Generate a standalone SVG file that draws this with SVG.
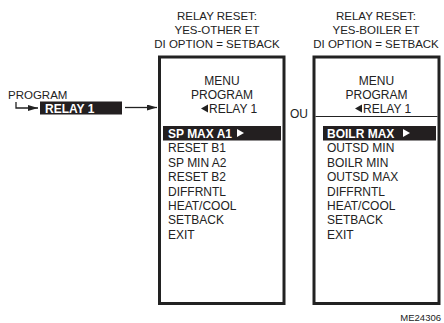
<svg xmlns="http://www.w3.org/2000/svg" width="444" height="323" viewBox="0 0 444 323">
<defs>
<style>
text{font-family:"Liberation Sans",Arial,sans-serif;font-size:12px;fill:#222}
.lb{font-size:11.5px}
.c{text-anchor:middle}
.w{fill:#fff;font-weight:bold}
.box{fill:#fff;stroke:#222;stroke-width:3}
.ln{stroke:#222;stroke-width:1.3;fill:none}
.hl{fill:#231f20}
</style>
<marker id="ah" markerWidth="10" markerHeight="6" refX="10" refY="3" orient="auto" markerUnits="userSpaceOnUse">
<path d="M0,0 L10,3 L0,6 Z" fill="#222"/>
</marker>
</defs>
<rect width="444" height="323" fill="#fff"/>

<g id="connectors">
<path class="ln" d="M16,102 V108 H38" marker-end="url(#ah)"/>
<path class="ln" d="M125,107.5 H157" marker-end="url(#ah)"/>
</g>

<g id="program">
<text class="lb" x="8" y="99">PROGRAM</text>
<rect class="hl" x="40" y="101.5" width="82" height="13"/>
<text class="w" x="45" y="112.5">RELAY 1</text>
</g>

<g id="label-left">
<text class="c lb" x="217" y="20">RELAY RESET:</text>
<text class="c lb" x="217" y="33.5">YES-OTHER ET</text>
<text class="c lb" x="217" y="47.5">DI OPTION = SETBACK</text>
</g>

<g id="menu-left">
<rect class="box" x="159.5" y="57" width="124.5" height="246.5"/>
<text class="c" x="222" y="85">MENU</text>
<text class="c" x="222" y="98.5">PROGRAM</text>
<path d="M201,108.5 L208,104.5 L208,112.5 Z" fill="#222"/>
<text x="209" y="112.5">RELAY 1</text>
<rect class="hl" x="163" y="126" width="118" height="14.5"/>
<text class="w" x="168" y="138">SP MAX A1</text>
<path d="M237,129 L244,133 L237,137 Z" fill="#fff"/>
<text x="168" y="152.3">RESET B1</text>
<text x="168" y="166.7">SP MIN A2</text>
<text x="168" y="181.2">RESET B2</text>
<text x="168" y="195.6">DIFFRNTL</text>
<text x="168" y="210">HEAT/COOL</text>
<text x="168" y="224.2">SETBACK</text>
<text x="168" y="238.5">EXIT</text>
</g>

<g id="ou">
<text class="c" x="299" y="118">OU</text>
</g>

<g id="label-right">
<text class="c lb" x="376" y="20">RELAY RESET:</text>
<text class="c lb" x="376" y="33.5">YES-BOILER ET</text>
<text class="c lb" x="376" y="47.5">DI OPTION = SETBACK</text>
</g>

<g id="menu-right">
<rect class="box" x="314" y="57" width="125" height="246.5"/>
<text class="c" x="376.5" y="85">MENU</text>
<text class="c" x="376.5" y="98.5">PROGRAM</text>
<path d="M355,108.5 L362,104.5 L362,112.5 Z" fill="#222"/>
<text x="363" y="112.5">RELAY 1</text>
<line x1="315.5" y1="116.5" x2="437.5" y2="116.5" stroke="#222" stroke-width="1"/>
<rect class="hl" x="323" y="126" width="113" height="14.5"/>
<text class="w" x="327" y="138">BOILR MAX</text>
<path d="M403,129 L410,133 L403,137 Z" fill="#fff"/>
<text x="327" y="152.3">OUTSD MIN</text>
<text x="327" y="166.7">BOILR MIN</text>
<text x="327" y="181.2">OUTSD MAX</text>
<text x="327" y="195.6">DIFFRNTL</text>
<text x="327" y="210">HEAT/COOL</text>
<text x="327" y="224.2">SETBACK</text>
<text x="327" y="238.5">EXIT</text>
</g>

<g id="figure-id">
<text x="441" y="321" style="font-size:9.5px;text-anchor:end">ME24306</text>
</g>
</svg>
